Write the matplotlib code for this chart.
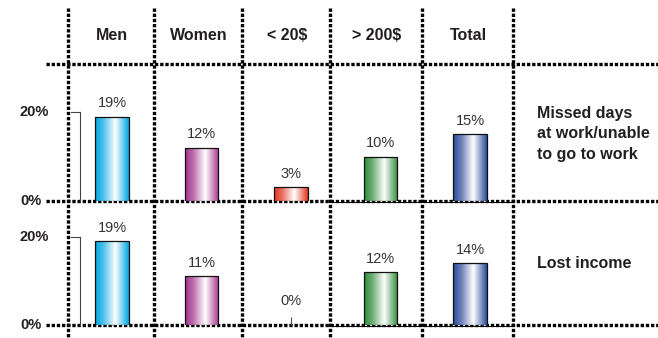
import numpy as np
import matplotlib
matplotlib.use("Agg")
import matplotlib.pyplot as plt
from matplotlib.colors import LinearSegmentedColormap, to_rgb
from matplotlib import transforms

plt.rcParams['font.family'] = ['Liberation Sans', 'DejaVu Sans']

# ---- data ----
groups = ["Men", "Women", "< 20$", "> 200$", "Total"]
missed_days = [19, 12, 3, 10, 15]
lost_income = [19, 11, 0, 12, 14]
row_labels = ["Missed days\nat work/unable\nto go to work", "Lost income"]
bar_colors = ["#00A6E3", "#A3338B", "#E2351F", "#2E8B3A", "#2A4B9B"]
axis_ticks = [0, 20]

# ---- layout (pixels) ----
W, H = 658, 338
col_edges = [68, 154, 242, 330, 422, 513]
header_line_y = 64
row_base = [200.7, 325.0]
row_top = [66.0, 205.0]
px_per_pct = 4.42
plot_left, plot_right = 67.25, 514.75
bracket_x, bracket_tick_x = 80, 71

fig = plt.figure(figsize=(W / 100, H / 100), dpi=100)
bg = fig.add_axes([0, 0, 1, 1])
bg.set_xlim(0, W)
bg.set_ylim(H, 0)
bg.axis("off")

dot = dict(color="black", lw=2.4, linestyle=(0, (1.0, 0.55)), solid_capstyle="butt",
           dash_capstyle="butt")
for x in col_edges:
    bg.plot([x, x], [8, H], **dot)
for y in [header_line_y] + row_base:
    bg.plot([46, W], [y, y], **dot)
for y in row_base:
    bg.plot([col_edges[3], col_edges[5]], [y + 1.2, y + 1.2], color="black", lw=0.7)

# column headers
for i, g in enumerate(groups):
    cx = (col_edges[i] + col_edges[i + 1]) / 2 + 1
    bg.text(cx, 35, g, ha="center", va="center", fontsize=11.5, fontweight="bold",
            color="#231F20")

# row labels on the right
bg.text(537, 134, row_labels[0], ha="left", va="center", fontsize=11.5,
        fontweight="bold", color="#231F20", linespacing=1.42)
bg.text(537, 264, row_labels[1], ha="left", va="center", fontsize=11.5,
        fontweight="bold", color="#231F20")


def make_cmap(c):
    r = np.array(to_rgb(c))
    w = np.ones(3)
    mid = r + (w - r) * 0.3
    return LinearSegmentedColormap.from_list(
        "g", [(0.0, r), (0.25, mid), (0.6, w), (0.88, mid), (1.0, r)])


grad = np.linspace(0, 1, 256).reshape(1, -1)
rows = [missed_days, lost_income]
for r, vals in enumerate(rows):
    base, top = row_base[r], row_top[r]
    ax = fig.add_axes([plot_left / W, 1 - base / H,
                       (plot_right - plot_left) / W, (base - top) / H])
    ax.patch.set_visible(False)
    for s in ax.spines.values():
        s.set_visible(False)
    xlim = (-0.5, len(groups) - 0.5)
    ylim = (0, (base - top) / px_per_pct)
    xs = np.arange(len(groups))
    bars = ax.bar(xs, vals, width=0.37, color="none", edgecolor="#111111",
                  linewidth=0.9, zorder=3)
    for b, v, c in zip(bars, vals, bar_colors):
        cx = b.get_x() + b.get_width() / 2
        if v > 0:
            x0, w = b.get_x(), b.get_width()
            im = ax.imshow(grad, extent=[x0, x0 + w, 0, v], aspect="auto",
                           cmap=make_cmap(c), zorder=2, interpolation="bilinear")
            im.set_clip_path(b)
        ax.annotate(f"{v}%", (cx, v), xytext=(0, 4.5 if v > 0 else 12),
                    textcoords="offset points", ha="center", va="bottom",
                    fontsize=10.5, color="#333333")
    ax.set_xlim(*xlim)
    ax.set_ylim(*ylim)
    ax.set_xticks(xs)
    ax.set_yticks([])
    if r == 1:
        ax.tick_params(axis="x", direction="in", length=6, width=0.8,
                       color="#555555", labelbottom=False)
    else:
        ax.tick_params(axis="x", length=0, labelbottom=False)

    # value-axis bracket and its labels
    blend = transforms.blended_transform_factory(bg.transData, ax.transData)
    ax.plot([bracket_x, bracket_x], [0, axis_ticks[1]], transform=blend,
            color="#444444", lw=0.8, clip_on=False)
    ax.plot([bracket_tick_x, bracket_x], [axis_ticks[1], axis_ticks[1]],
            transform=blend, color="#444444", lw=0.8, clip_on=False)
    for t in axis_ticks:
        ax.text(20, t, f"{t}%", transform=blend, ha="left", va="center",
                fontsize=10.5, fontweight="bold", color="#231F20", clip_on=False)

fig.savefig("out.png", dpi=100)
